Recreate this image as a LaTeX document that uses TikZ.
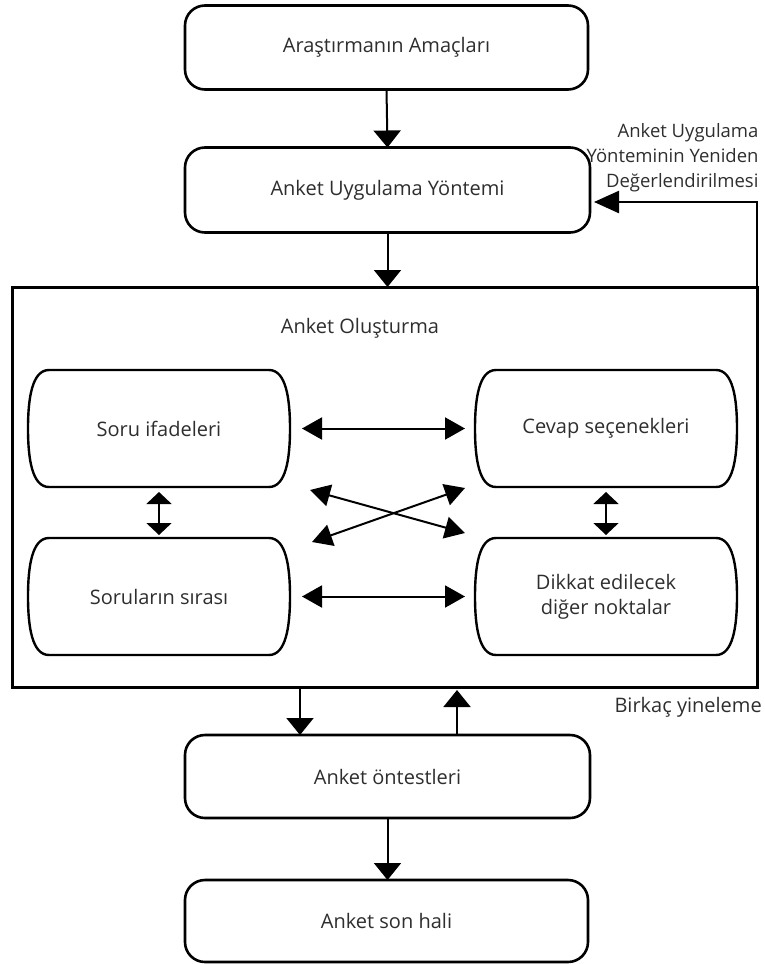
\documentclass[tikz,border=0pt]{standalone}
\usepackage{fontspec}
\setmainfont{Open Sans}
\usetikzlibrary{arrows.meta,calc}
\begin{document}
\begin{tikzpicture}[x=1pt,y=1pt,
  txt/.style={text=black!82,font=\fontsize{20}{25}\selectfont},
  mainbox/.style={txt,draw,line width=2.6pt,rounded corners=20pt,inner sep=0pt,outer sep=0pt,align=center},
  barrel/.style={txt,draw=none,inner sep=0pt,outer sep=0pt,align=center,
    minimum width=262pt,minimum height=117pt},
  barrelline/.style={draw,line width=2.4pt},
  bigarrow/.style={-{Triangle[width=27pt,length=17pt]},line width=2pt},
  dblarrow/.style={{Triangle[width=22pt,length=20pt]}-{Triangle[width=22pt,length=20pt]},line width=2pt},
  vdblarrow/.style={{Triangle[width=25pt,length=12pt]}-{Triangle[width=25pt,length=12pt]},line width=2pt},
  fbarrow/.style={-{Triangle[width=22pt,length=25pt]},line width=2.4pt}
]
\useasboundingbox (0,0) rectangle (764,-964);

\node[mainbox,minimum width=403pt,minimum height=84pt] (top) at (386.5,-47.5) {Araştırmanın Amaçları};
\node[mainbox,minimum width=405pt,minimum height=85pt] (meth) at (387.5,-190) {Anket Uygulama Yöntemi};
\node[draw,line width=3pt,inner sep=0pt,outer sep=0pt,minimum width=745pt,minimum height=400pt] (frame) at (384.5,-487) {};
\node[txt] (olus) at (360,-328) {Anket Oluşturma};

\node[barrel] (q1) at (159,-428.5) {Soru ifadeleri};
\node[barrel] (q2) at (159,-596.5) {Soruların sırası};
\node[barrel] (q3) at (606,-428.5) {Cevap seçenekleri};
\node[barrel] (q4) at (606,-596.5) {Dikkat edilecek\\diğer noktalar};

\foreach \n in {q1,q2,q3,q4}{
  \draw[barrelline]
      ([xshift=21pt]\n.north west) -- ([xshift=-21pt]\n.north east)
      .. controls ([xshift=-4pt]\n.north east) and ([yshift=30pt]\n.east) .. (\n.east)
      .. controls ([yshift=-30pt]\n.east) and ([xshift=-4pt]\n.south east) .. ([xshift=-21pt]\n.south east)
      -- ([xshift=21pt]\n.south west)
      .. controls ([xshift=4pt]\n.south west) and ([yshift=-30pt]\n.west) .. (\n.west)
      .. controls ([yshift=30pt]\n.west) and ([xshift=4pt]\n.north west) .. ([xshift=21pt]\n.north west) -- cycle;
}

\node[mainbox,minimum width=405pt,minimum height=83pt] (pre) at (387.5,-776.5) {Anket öntestleri};
\node[mainbox,minimum width=403pt,minimum height=82pt] (final) at (386.5,-921) {Anket son hali};

\node[txt,font=\fontsize{18.5}{25}\selectfont,anchor=east,align=right] (fblabel) at (762,-158) {Anket Uygulama\\Yönteminin Yeniden\\Değerlendirilmesi};
\node[txt,anchor=west] (iter) at (611,-707) {Birkaç yineleme};

\coordinate (xa) at (310,-490);
\coordinate (xb) at (465,-533);
\coordinate (xc) at (312,-542);
\coordinate (xd) at (465,-488);

\draw[bigarrow] (top.south) -- (meth.north);
\draw[bigarrow] (meth.south) -- (meth.south |- frame.north);
\draw[fbarrow,shorten >=4pt] (frame.north east) |- ([yshift=-12pt]meth.east);

\draw[dblarrow,shorten <=12pt,shorten >=10pt] (q1.east) -- (q3.west);
\draw[dblarrow,shorten <=12pt,shorten >=10pt] (q2.east) -- (q4.west);
\draw[dblarrow] (xa) -- (xb);
\draw[dblarrow] (xc) -- (xd);
\draw[vdblarrow,shorten <=5pt,shorten >=3pt] (q1.south) -- (q2.north);
\draw[vdblarrow,shorten <=5pt,shorten >=3pt] (q3.south) -- (q4.north);

\draw[bigarrow] ([xshift=-87.5pt]frame.south -| pre.north) -- ([xshift=-87.5pt]pre.north);
\draw[bigarrow,shorten >=3pt] ([xshift=69.5pt]pre.north) -- ([xshift=69.5pt]frame.south -| pre.north);
\draw[bigarrow] (pre.south) -- (pre.south |- final.north);
\end{tikzpicture}
\end{document}
